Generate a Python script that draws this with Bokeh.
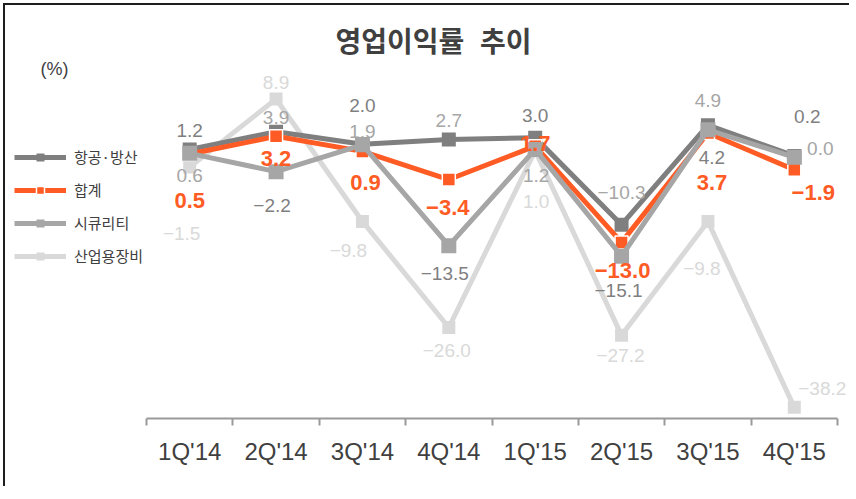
from bokeh.plotting import figure
from bokeh.models import ColumnDataSource, Range1d, FixedTicker, Legend, LegendItem, Label
from bokeh.core.properties import value
from bokeh.embed import file_html
from bokeh.resources import INLINE

# ---- data ----
quarters = ["1Q'14", "2Q'14", "3Q'14", "4Q'14", "1Q'15", "2Q'15", "3Q'15", "4Q'15"]
aero = [1.2, 3.9, 2.0, 2.7, 3.0, -10.3, 4.9, 0.2]          # 항공·방산
total = [0.5, 3.2, 0.9, -3.4, 1.7, -13.0, 3.7, -1.9]       # 합계
security = [0.6, -2.2, 1.9, -13.5, 1.2, -15.1, 4.2, 0.0]   # 시큐리티
industrial = [-1.5, 8.9, -9.8, -26.0, 1.0, -27.2, -9.8, -38.2]  # 산업용장비

names = ["항공·방산", "합계", "시큐리티", "산업용장비"]
title_text = "영업이익률\u2002\u200a추이"
unit_text = "(%)"

# ---- styles ----
DARK = "#7f7f7f"
MID = "#a6a6a6"
LIGHT = "#d9d9d9"
ORANGE = "#ff5b24"
TXT = "#404040"

# label offsets (pixels) per point
aero_dx = [0, 0, 0, 0, 0, 0, 0, 13]
aero_dy = [-19, -14, -39, -19, -22, -32, -25, -39]
aero_lc = [DARK, MID, DARK, MID, DARK, MID, MID, DARK]
sec_dx = [0, -4, 0, -4, 1, -3, 4, 26]
sec_dy = [22, 34, -13, 28, 26, 34, 28, -9]
sec_lc = [MID, DARK, MID, DARK, MID, DARK, DARK, MID]
tot_dx = [0, 0, 3, -1, 0, 1, 4, 19]
tot_dy = [46, 22, 31, 28, -3, 28, 49, 23]
ind_dx = [-8, 0, -14, -2, 1, -1, -6, 28]
ind_dy = [66, -17, 29, 23, 51, 20, 47, -19]

xs = [i + 0.5 for i in range(len(quarters))]

# ---- layout geometry (pixels) ----
W, H = 846, 483
BOTTOM = 70                 # axis panel height
FRAME_H = H - BOTTOM
X0_PX = 141                 # pixel of category-band start
BAND = 86.375               # pixels per category
YPX = 6.547                 # pixels per percent
Y_LO = -39.9
Y_HI = Y_LO + FRAME_H / YPX


def fmt(v):
    return f"{v:.1f}".replace("-", "\u2212")


p = figure(width=W, height=H, output_backend="svg", toolbar_location=None,
           x_range=Range1d(-X0_PX / BAND, (W - X0_PX) / BAND),
           y_range=Range1d(Y_LO, Y_HI),
           y_axis_location=None, min_border_left=0, min_border_right=0,
           min_border_top=0, min_border_bottom=BOTTOM,
           styles={"margin-left": "3px", "margin-top": "3px",
                   "border-left": "2px solid #1e1e1e", "border-top": "2px solid #1e1e1e"})
p.outline_line_color = None
p.grid.visible = False
p.background_fill_color = "white"
p.border_fill_color = "white"

series = [
    (industrial, LIGHT, 13, None, ind_dx, ind_dy, [LIGHT] * 8, names[3]),
    (aero, DARK, 14, None, aero_dx, aero_dy, aero_lc, names[0]),
    (total, ORANGE, 13, "white", tot_dx, tot_dy, [ORANGE] * 8, names[1]),
    (security, MID, 15, None, sec_dx, sec_dy, sec_lc, names[2]),
]

renderers = {}
for vals, col, msize, mline, dx, dy, lc, nm in series:
    src = ColumnDataSource(dict(x=xs, y=vals))
    ln = p.line("x", "y", source=src, line_color=col, line_width=5)
    mk = p.scatter("x", "y", source=src, marker="square", size=msize,
                   fill_color=col, line_color=mline if mline else col,
                   line_width=1.5 if mline else 0)
    renderers[nm] = [ln, mk]

# value labels on top
for vals, col, msize, mline, dx, dy, lc, nm in series:
    is_total = col == ORANGE
    lsrc = ColumnDataSource(dict(x=xs, y=vals, t=[fmt(v) for v in vals],
                                 dx=dx, dy=dy, c=lc))
    p.text("x", "y", text="t", source=lsrc, x_offset="dx", y_offset="dy",
           text_color="c", text_align="center", text_baseline="middle",
           text_font=value("Liberation Sans"),
           text_font_size="22px" if is_total else "19px",
           text_font_style="bold" if is_total else "normal")

# x axis
ax = p.xaxis[0]
ax.bounds = (0, len(quarters))
ax.ticker = FixedTicker(ticks=xs, minor_ticks=list(range(len(quarters) + 1)))
ax.major_label_overrides = {x: q for x, q in zip(xs, quarters)}
ax.major_tick_line_color = None
ax.major_tick_out = 0
ax.major_tick_in = 0
ax.minor_tick_line_color = "#9a9a9a"
ax.minor_tick_line_width = 2
ax.minor_tick_out = 7
ax.minor_tick_in = 0
ax.axis_line_color = "#9a9a9a"
ax.axis_line_width = 2
ax.major_label_text_font = "Liberation Sans"
ax.major_label_text_font_size = "24px"
ax.major_label_text_color = TXT
ax.major_label_standoff = 12

# legend
legend = Legend(items=[LegendItem(label=n, renderers=renderers[n]) for n in names],
                location=(9, 152), orientation="vertical",
                glyph_width=52, glyph_height=20, label_height=20, label_standoff=8,
                spacing=12, padding=0, margin=0,
                border_line_color=None, background_fill_alpha=0,
                label_text_font="Noto Sans CJK KR", label_text_font_size="15px",
                label_text_color=TXT)
p.add_layout(legend, "center")

# title and unit
p.add_layout(Label(x=428, y=379, x_units="screen", y_units="screen", text=title_text,
                   text_align="center", text_baseline="middle",
                   text_font="Noto Sans CJK KR", text_font_style="bold",
                   text_font_size="28px", text_color=TXT))
p.add_layout(Label(x=49, y=350, x_units="screen", y_units="screen", text=unit_text,
                   text_align="center", text_baseline="middle",
                   text_font="Liberation Sans", text_font_size="18px", text_color=TXT))

open("out.html", "w").write(file_html(p, INLINE))
